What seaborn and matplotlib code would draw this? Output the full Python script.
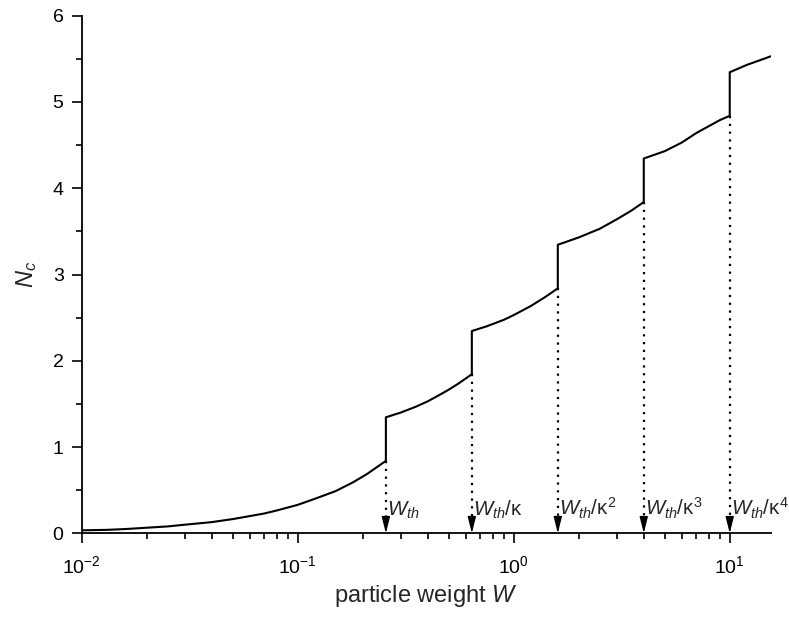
import numpy as np
import pandas as pd
import matplotlib
matplotlib.use("Agg")
import matplotlib.pyplot as plt
from matplotlib.ticker import LogLocator, MultipleLocator, NullFormatter
import seaborn as sns

# ---- data ----
W_vals = [0.010, 0.013, 0.016, 0.020, 0.025, 0.030, 0.040, 0.050, 0.060, 0.070,
          0.080, 0.100, 0.120, 0.150, 0.180, 0.210, 0.256,
          0.256, 0.300, 0.350, 0.400, 0.450, 0.500, 0.550, 0.600, 0.640,
          0.640, 0.750, 0.900, 1.000, 1.200, 1.400, 1.600,
          1.600, 2.000, 2.500, 3.000, 3.500, 4.000,
          4.000, 5.000, 6.000, 7.000, 8.000, 9.000, 10.00,
          10.00, 12.00, 14.00, 15.50]
Nc_vals = [0.035, 0.040, 0.050, 0.065, 0.080, 0.100, 0.130, 0.165, 0.200, 0.230,
           0.265, 0.330, 0.400, 0.490, 0.590, 0.690, 0.840,
           1.345, 1.400, 1.465, 1.530, 1.600, 1.665, 1.730, 1.795, 1.845,
           2.345, 2.400, 2.475, 2.530, 2.635, 2.740, 2.840,
           3.345, 3.430, 3.530, 3.640, 3.740, 3.840,
           4.345, 4.430, 4.530, 4.640, 4.720, 4.790, 4.840,
           5.345, 5.430, 5.490, 5.530]

# thresholds (arrow positions) and the curve value just before each jump
thr_W = [0.256, 0.64, 1.6, 4.0, 10.0]
thr_N = [0.840, 1.845, 2.840, 3.840, 4.840]
thr_labels = [r'$W_{th}$', r'$W_{th}/\mathrm{κ}$', r'$W_{th}/\mathrm{κ}^{2}$',
              r'$W_{th}/\mathrm{κ}^{3}$', r'$W_{th}/\mathrm{κ}^{4}$']

y_ticks = [0, 1, 2, 3, 4, 5, 6]

sns.set_style("ticks")
plt.rcParams['font.family'] = ['Liberation Sans', 'DejaVu Sans']
plt.rcParams['mathtext.fontset'] = 'custom'
plt.rcParams['mathtext.rm'] = 'Liberation Sans'
plt.rcParams['mathtext.it'] = 'Liberation Sans:italic'
plt.rcParams['mathtext.bf'] = 'Liberation Sans:bold'

fig = plt.figure(figsize=(7.89, 6.24), dpi=100)
ax = fig.add_axes([0.1035, 0.1453, 0.8735, 0.8295])

df = pd.DataFrame({'W': W_vals, 'Nc': Nc_vals})
sns.lineplot(data=df, x='W', y='Nc', estimator=None, sort=False,
             color='black', linewidth=1.5, ax=ax)

ax.set_xscale('log')
ax.set_xlim(0.01, 15.5)
ax.set_ylim(0, 6)

# dotted drop lines with arrow heads
for w, n, lab in zip(thr_W, thr_N, thr_labels):
    ax.plot([w, w], [n, 0.12], linestyle=(0, (1, 2.5)), color='black', linewidth=1.6)
    ax.annotate('', xy=(w, 0), xytext=(w, 0.17),
                arrowprops=dict(arrowstyle='-|>,head_length=1.0,head_width=0.25',
                                color='black', lw=1, shrinkA=0, shrinkB=0))
    ax.annotate(lab, xy=(w, 0.21), xytext=(1.0, 0), textcoords='offset points',
                ha='left', va='baseline', fontsize=14.8, annotation_clip=False)

ax.set_yticks(y_ticks)
ax.yaxis.set_minor_locator(MultipleLocator(0.5))
ax.xaxis.set_major_locator(LogLocator(base=10, numticks=10))
ax.xaxis.set_minor_locator(LogLocator(base=10, subs=np.arange(2, 10), numticks=10))
ax.xaxis.set_minor_formatter(NullFormatter())

ax.tick_params(axis='both', which='major', length=7, width=1.2, labelsize=14,
               direction='out', color='black', labelcolor='black', pad=6)
ax.tick_params(axis='both', which='minor', length=4.5, width=1.2, direction='out',
               color='black')
ax.tick_params(axis='x', which='major', pad=9)

for s in ['left', 'bottom']:
    ax.spines[s].set_linewidth(1.3)
    ax.spines[s].set_color('black')
sns.despine(ax=ax)

ax.set_xlabel(r'particle weight $W$', fontsize=17, labelpad=4)
ax.set_ylabel(r'$N_c$', fontsize=17, labelpad=10)

fig.savefig('out.png', dpi=100)
